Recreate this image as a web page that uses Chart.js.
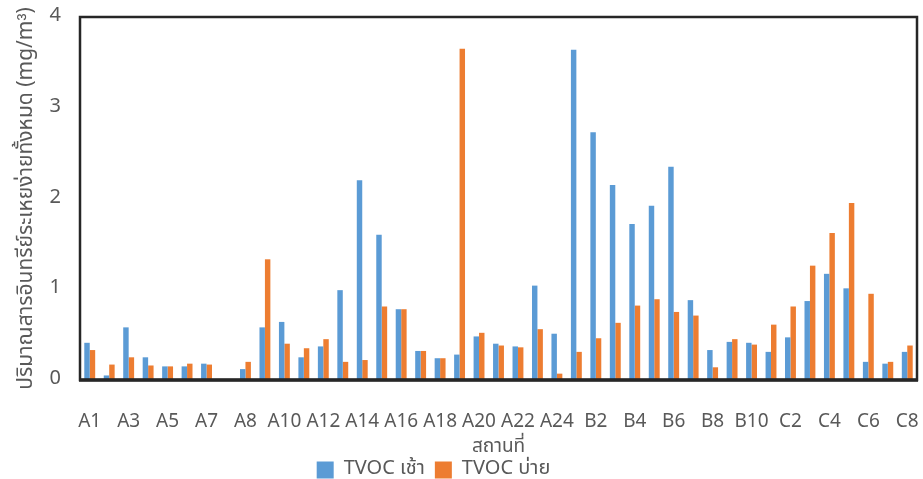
<!DOCTYPE html>
<html>
<head>
  <title>TVOC</title>
  <script src="https://cdn.jsdelivr.net/npm/chart.js"></script>
  <style>
    html, body {
      margin: 0;
      padding: 0;
      background: #fff;
    }
    .wrap {
      width: 923px;
      height: 479px;
    }
  </style>
</head>
<body>
  <div class="wrap">
    <canvas id="tvocChart" width="923" height="479"></canvas>
  </div>

  <script>
    const sites = [
      'A1', 'A2', 'A3', 'A4', 'A5', 'A6', 'A7', 'A7.1', 'A8', 'A9',
      'A10', 'A11', 'A12', 'A13', 'A14', 'A15', 'A16', 'A17', 'A18', 'A19',
      'A20', 'A21', 'A22', 'A23', 'A24', 'B1', 'B2', 'B3', 'B4', 'B5',
      'B6', 'B7', 'B8', 'B9', 'B10', 'C1', 'C2', 'C3', 'C4', 'C5',
      'C6', 'C7', 'C8'
    ];

    const tvocMorning = [
      0.41, 0.05, 0.58, 0.25, 0.15, 0.15, 0.18, 0, 0.12, 0.58,
      0.64, 0.25, 0.37, 0.99, 2.20, 1.60, 0.78, 0.32, 0.24, 0.28,
      0.48, 0.40, 0.37, 1.04, 0.51, 3.64, 2.73, 2.15, 1.72, 1.92,
      2.35, 0.88, 0.33, 0.42, 0.41, 0.31, 0.47, 0.87, 1.17, 1.01,
      0.20, 0.18, 0.31
    ];

    const tvocAfternoon = [
      0.33, 0.17, 0.25, 0.16, 0.15, 0.18, 0.17, 0, 0.20, 1.33,
      0.40, 0.35, 0.45, 0.20, 0.22, 0.81, 0.78, 0.32, 0.24, 3.65,
      0.52, 0.38, 0.36, 0.56, 0.07, 0.31, 0.46, 0.63, 0.82, 0.89,
      0.75, 0.71, 0.14, 0.45, 0.39, 0.61, 0.81, 1.26, 1.62, 1.95,
      0.95, 0.20, 0.38
    ];

    const yTicks = [0, 1, 2, 3, 4];

    const thaiFont = "'Noto Sans Thai', 'Liberation Sans', 'Noto Sans', sans-serif";
    const textGray = '#595959';

    // frame around the plot area, like the excel chart
    const framePlugin = {
      id: 'frame',
      afterLayout(chart) {
        // excel puts the legend a bit left of centre
        chart.legend.left -= 25;
        chart.legend.right -= 25;
      },
      afterDatasetsDraw(chart) {
        const { ctx, chartArea: a } = chart;
        ctx.save();
        ctx.strokeStyle = '#262626';
        ctx.lineWidth = 2.5;
        ctx.strokeRect(a.left, a.top, a.right - a.left, a.bottom - a.top);
        ctx.lineWidth = 3.5;
        ctx.beginPath();
        ctx.moveTo(a.left - 1, a.bottom);
        ctx.lineTo(a.right + 1, a.bottom);
        ctx.stroke();
        ctx.restore();
      }
    };

    const ctx = document.getElementById('tvocChart').getContext('2d');
    new Chart(ctx, {
      type: 'bar',
      data: {
        labels: sites,
        datasets: [
          {
            label: 'TVOC เช้า',
            data: tvocMorning,
            backgroundColor: '#5B9BD5',
            categoryPercentage: 0.56,
            barPercentage: 1.0
          },
          {
            label: 'TVOC บ่าย',
            data: tvocAfternoon,
            backgroundColor: '#ED7D31',
            categoryPercentage: 0.56,
            barPercentage: 1.0
          }
        ]
      },
      options: {
        responsive: false,
        animation: false,
        layout: {
          padding: { left: 0, right: 6, top: 17, bottom: -11 }
        },
        plugins: {
          legend: {
            position: 'bottom',
            labels: {
              color: textGray,
              boxWidth: 17,
              boxHeight: 17,
              padding: 10,
              font: { family: thaiFont, size: 20 }
            }
          },
          tooltip: { enabled: false }
        },
        scales: {
          x: {
            grid: { display: false },
            border: { display: false },
            afterFit: scale => {
              scale.height = 70;
              scale.paddingLeft = 0;
              scale.paddingRight = 0;
            },
            ticks: {
              color: textGray,
              autoSkip: false,
              maxRotation: 0,
              padding: 24,
              font: { family: thaiFont, size: 19 },
              callback: (v, i) => (i % 2 === 0 ? sites[i] : '')
            },
            title: {
              display: true,
              text: 'สถานที่',
              color: textGray,
              padding: { top: 0, bottom: -10 },
              font: { family: thaiFont, size: 19 }
            }
          },
          y: {
            min: 0,
            max: 4,
            grid: { display: false },
            border: { display: false },
            afterBuildTicks: scale => {
              scale.ticks = yTicks.map(v => ({ value: v }));
            },
            afterFit: scale => {
              scale.width = 80;
              scale.paddingTop = 0;
              scale.paddingBottom = 0;
            },
            ticks: {
              color: textGray,
              padding: 11,
              font: { family: thaiFont, size: 20 }
            },
            title: {
              display: true,
              text: 'ปริมาณสารอินทรีย์ระเหยง่ายทั้งหมด (mg/m³)',
              color: textGray,
              padding: { top: 15, bottom: 0 },
              font: { family: thaiFont, size: 21 }
            }
          }
        }
      },
      plugins: [framePlugin]
    });
  </script>
</body>
</html>
